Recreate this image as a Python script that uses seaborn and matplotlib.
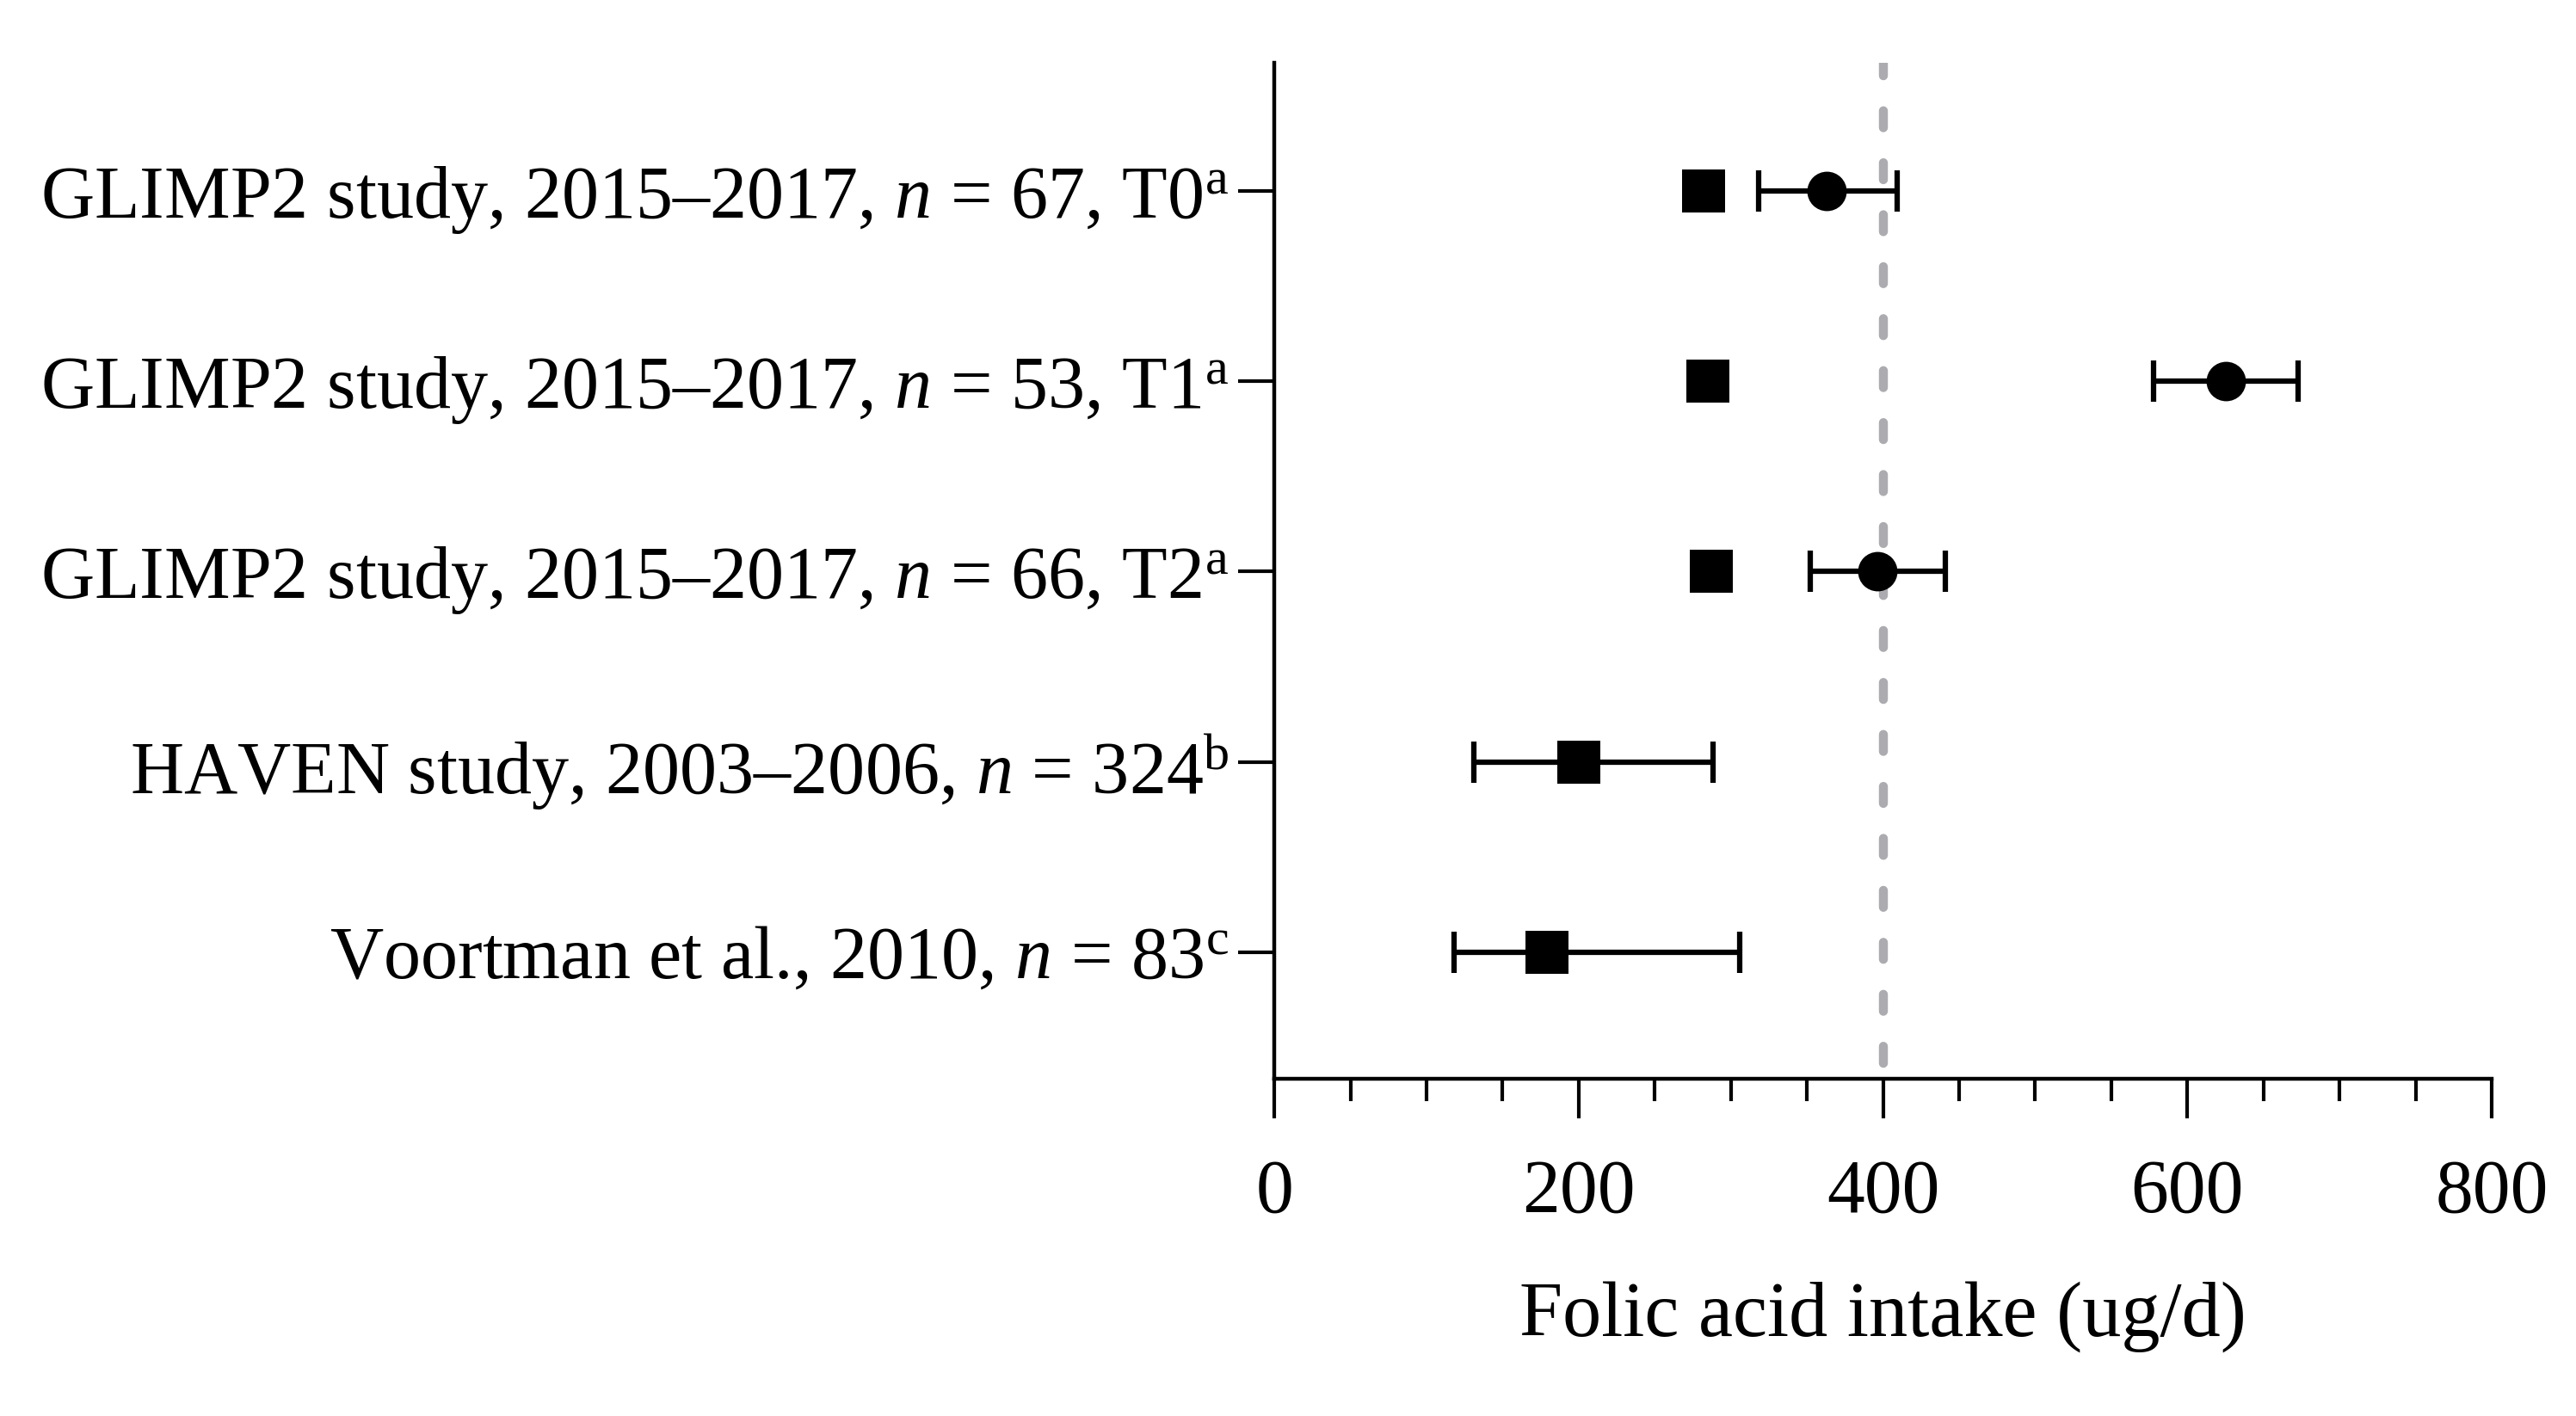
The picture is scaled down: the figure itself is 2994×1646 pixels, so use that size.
import numpy as np
import pandas as pd
import matplotlib
matplotlib.use("Agg")
import matplotlib.pyplot as plt
import seaborn as sns

# study labels, top to bottom
studies = [
    r"GLIMP2 study, 2015–2017, $n$ = 67, T0$^{\mathrm{a}}$",
    r"GLIMP2 study, 2015–2017, $n$ = 53, T1$^{\mathrm{a}}$",
    r"GLIMP2 study, 2015–2017, $n$ = 66, T2$^{\mathrm{a}}$",
    r"HAVEN study, 2003–2006, $n$ = 324$^{\mathrm{b}}$",
    r"Voortman et al., 2010, $n$ = 83$^{\mathrm{c}}$",
]
# square markers (diet only) and circle markers (incl. supplements)
square_vals = [282, 285, 287, 200, 179]
circle_vals = [363, 625, 396, np.nan, np.nan]
# error bar centre and range per row
err_center = [363, 625, 396, 200, 179]
err_low = [318, 578, 352, 131, 118]
err_high = [409, 673, 441, 288, 306]
ref_intake = 400
x_ticks = [0, 200, 400, 600, 800]

sns.set_theme(style="ticks")
plt.rcParams["font.family"] = ["Liberation Serif", "DejaVu Serif"]
plt.rcParams["mathtext.fontset"] = "custom"
plt.rcParams["mathtext.rm"] = "Liberation Serif"
plt.rcParams["mathtext.it"] = "Liberation Serif:italic"
plt.rcParams["text.color"] = "black"
plt.rcParams["axes.labelcolor"] = "black"

df = pd.DataFrame({
    "study": studies,
    "square": square_vals,
    "circle": circle_vals,
    "pos": np.arange(len(studies)),
})

fig = plt.figure(figsize=(29.94, 16.46), dpi=100)
ax = fig.add_axes([0.4947, 0.2382, 0.4726, 0.7174])

ax.axvline(ref_intake, ymin=0.015, ymax=1, color="#acacb0", lw=7.5,
           linestyle=(0, (1.9, 3.9)), dash_capstyle="round", zorder=1)

center = np.array(err_center)
xerr = np.vstack([center - np.array(err_low), np.array(err_high) - center])
ax.errorbar(center, df["pos"], xerr=xerr, fmt="none", ecolor="black",
            elinewidth=4.5, capsize=17, capthick=4.5, zorder=2)

sns.scatterplot(data=df, x="square", y="pos", marker="s", s=36 ** 2,
                color="black", edgecolor="black", linewidth=0, ax=ax, zorder=3)
sns.scatterplot(data=df.dropna(), x="circle", y="pos", marker="o", s=33 ** 2,
                color="black", edgecolor="black", linewidth=0, ax=ax, zorder=3)

ax.set_xlim(0, 800)
ax.set_ylim(len(studies) - 1 + 0.665, -0.672)
ax.set_xticks(x_ticks)
ax.set_xticks(np.arange(0, 801, 50), minor=True)
ax.set_yticks(df["pos"])
ax.set_yticklabels(studies)
ax.set_xlabel("Folic acid intake (ug/d)", fontsize=65, labelpad=44, color="black")
ax.set_ylabel("")

sns.despine(ax=ax)
for side in ["left", "bottom"]:
    ax.spines[side].set_linewidth(3.2)
    ax.spines[side].set_color("black")

ax.tick_params(axis="x", which="major", length=33, width=3, pad=34,
               labelsize=63, color="black", labelcolor="black")
ax.tick_params(axis="x", which="minor", length=19, width=3, color="black")
ax.tick_params(axis="y", length=30, width=3, pad=8, labelsize=62,
               color="black", labelcolor="black")

fig.savefig("out.png", dpi=100, facecolor="white")
